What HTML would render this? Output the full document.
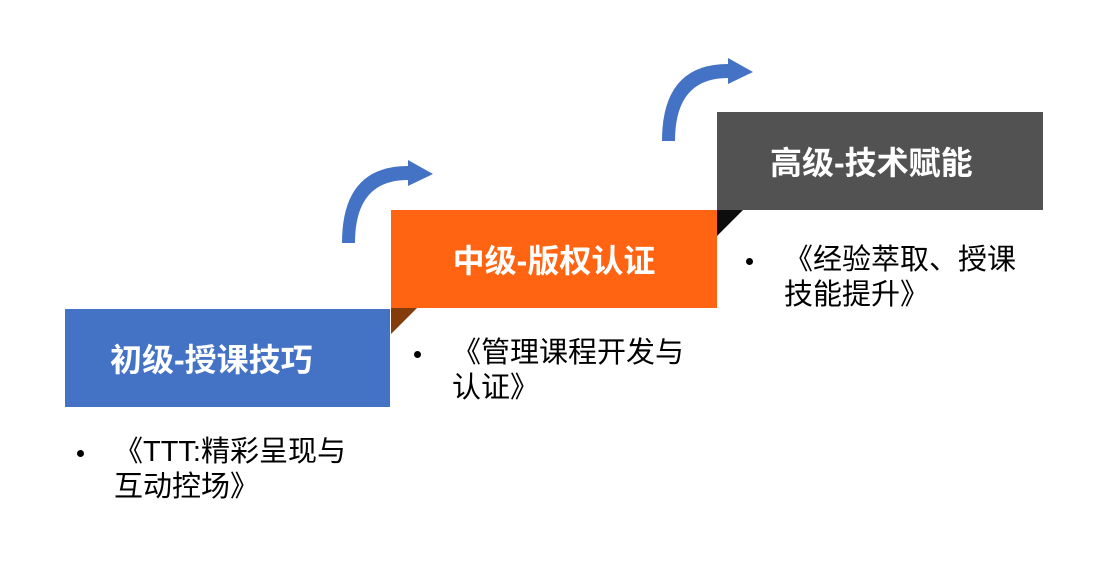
<!DOCTYPE html>
<html><head><meta charset="utf-8"><style>
body{margin:0;width:1100px;height:582px;background:#fff;position:relative;overflow:hidden;font-family:"Liberation Sans","Noto Sans CJK SC",sans-serif}
.b{position:absolute;color:#fff;font-weight:bold;font-size:32px;display:flex;align-items:center;justify-content:center}
.t{position:absolute;font-size:29px;line-height:35px;color:#000}
.d{position:absolute;width:7px;height:7px;border-radius:50%;background:#000}
</style></head><body>
<div class="b" style="left:65px;top:309px;width:325px;height:98px;background:#4472c4;justify-content:flex-start;padding-left:45px;box-sizing:border-box">初级-授课技巧</div>
<div class="b" style="left:391px;top:210px;width:326px;height:98px;background:#fe6411">中级-版权认证</div>
<div class="b" style="left:717px;top:112px;width:326px;height:98px;background:#525252;justify-content:flex-start;padding-left:53px;box-sizing:border-box">高级-技术赋能</div>
<svg width="1100" height="582" style="position:absolute;left:0;top:0">
<polygon points="391,308 417,308 391,334" fill="#843c0c"/>
<polygon points="717,210 743,210 717,236" fill="#0d0d0d"/>
<g fill="#4472c4">
<path d="M342,243 Q342,166 408,166 L408,160 L433,174 L408,186 L408,180 Q355,180 355,243 Z"/>
<path d="M662,141 Q662,64 728,64 L728,58 L753,72 L728,84 L728,78 Q675,78 675,141 Z"/>
</g>
</svg>
<div class="d" style="left:77px;top:450px"></div>
<div class="t" style="left:114px;top:435px">《TTT:精彩呈现与<br>互动控场》</div>
<div class="d" style="left:414px;top:351px"></div>
<div class="t" style="left:452px;top:336px">《管理课程开发与<br>认证》</div>
<div class="d" style="left:746px;top:258px"></div>
<div class="t" style="left:784px;top:243px">《经验萃取、授课<br>技能提升》</div>
</body></html>
